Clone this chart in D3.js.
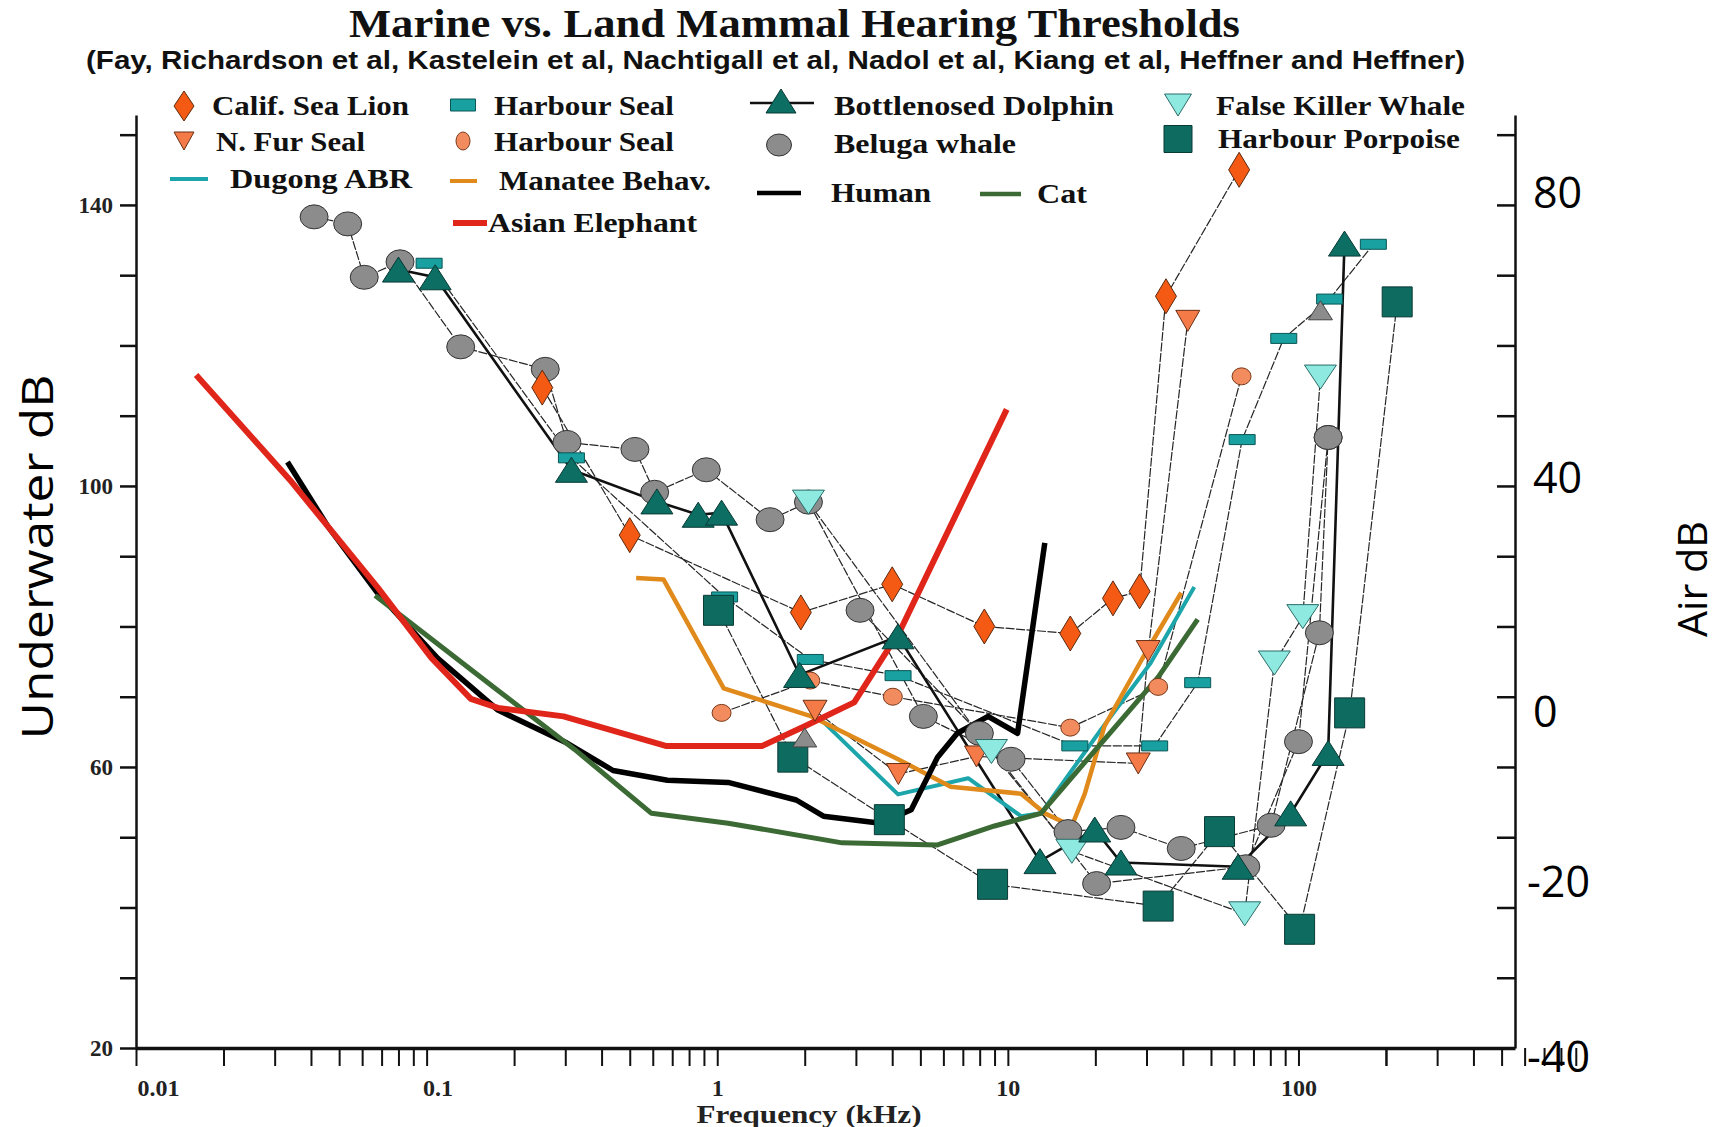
<!DOCTYPE html>
<html lang="en">
<head>
<meta charset="utf-8">
<title>Marine vs. Land Mammal Hearing Thresholds</title>
<script src="https://d3js.org/d3.v7.min.js"></script>
<style>
  body { margin: 0; background: #fff; }
  svg { display: block; }
  .serif { font-family: "Liberation Serif", "DejaVu Serif", serif; font-weight: bold; }
  .sans { font-family: "Open Sans", "Liberation Sans", sans-serif; }
  .axis path, .axis line { stroke: #111; }
</style>
</head>
<body>
<script>
// frequency in kHz, threshold in underwater dB
var seaLion = [[0.25,114],[0.5,93],[1.94,82],[4.0,86],[8.3,80],[16.4,79],[23,84],[28.4,85],[35,127],[62.5,145]];
var furSeal = [[2.17,68],[4.2,59],[7.8,61.5],[28.1,60.5],[30.4,76.5],[41.6,123.5]];
var harbourSealBar = [[0.102,131.7],[0.315,104],[1.06,84.2],[2.09,75.3],[4.19,73],[17,63],[32,63],[45,72],[64,106.6],[89,121],[128,126.6],[181,134.4]];
var harbourSealDot = [[1.035,67.7],[2.09,72.3],[4.02,70],[16.4,65.6],[32.9,71.4],[63.7,115.6]];
var dolphin = [[0.08,130.8],[0.107,129.7],[0.315,102.3],[0.62,97.8],[0.86,95.9],[1.035,96.2],[1.92,73.1],[4.19,78.6],[12.9,46.6],[19.9,51.1],[24.5,46.4],[62,45.8],[94,53.4],[126.5,62],[144,134.5]];
var dolphinGrey = [[2.0,64.2],[119,125]];
var belugaA = [[0.041,138.3],[0.0535,137.3],[0.061,129.7],[0.081,131.9],[0.131,119.8],[0.256,116.6],[0.304,106.2],[0.521,105.2],[0.609,99.1],[0.917,102.3],[1.52,95.2],[2.06,97.7],[5.12,67.2],[10.26,61.1],[16.1,50.8],[24.5,51.4],[39.5,48.4],[80.5,51.7],[118,79.1],[126.5,106.9]];
var belugaB = [[3.1,82.3],[7.98,64.8],[20.2,43.4],[65.9,45.8],[100,63.6],[126.5,106.9]];
var falseKiller = [[2.06,97.7],[8.78,62.2],[16.6,48],[65.3,39.1],[82.6,74.8],[103.5,81.4],[119,115.5]];
var porpoise = [[1.01,82.3],[1.82,61.4],[3.91,52.5],[8.86,43.3],[32.9,40.2],[53.5,50.8],[100.9,36.9],[150,67.7],[218.6,126.2]];

var elephant = [[0.0161,115.8],[0.0338,100.9],[0.0458,94.2],[0.0677,85.6],[0.104,75.5],[0.142,69.7],[0.176,68.4],[0.296,67.2],[0.665,63],[1.43,63],[2.0,65.8],[2.96,69.2],[4.27,79.5],[9.91,110.9]];
var human = [[0.0332,103.4],[0.0458,94.2],[0.0677,84.8],[0.109,75.5],[0.176,68.1],[0.304,63.4],[0.438,59.5],[0.674,58.1],[1.09,57.8],[1.87,55.3],[2.32,53],[3.65,52],[4.65,53.9],[5.73,61.4],[6.7,64.8],[8.55,67.2],[10.8,64.8],[13.4,91.9]];
var cat = [[0.0665,84.4],[0.176,70.9],[0.323,62.5],[0.594,53.4],[1.09,52],[2.69,49.2],[5.73,48.9],[9.0,51.6],[13,53.4],[22,64.4],[32.9,72.8],[45,81]];
var manatee = [[0.526,86.9],[0.653,86.7],[1.053,71.2],[2.11,67.2],[4.19,61.1],[6.36,57.2],[11.1,56.2],[13.4,53.4],[16.6,51.6],[18.4,56.2],[21.5,65.8],[28.9,75.3],[39.5,84.8]];
var dugong = [[2.28,66.7],[4.19,56.1],[7.3,58.4],[11.1,53],[13,53.4],[20.9,65.3],[31,74.8],[43.8,85.6]];

// axis ticks
var xMajor = [0.01, 0.1, 1, 10, 100];
var xTickLabels = ["0.01", "0.1", "1", "10", "100"];
var yTickLabels = [20, 60, 100, 140];
var airTicks = [80, 40, 0, -20, -40];
var airTickWaterDb = [141.9, 101.3, 68.1, 43.8, 18.9];   // where the hand placed air labels sit

var W = 1721, H = 1127;
var svg = d3.select("body").append("svg").attr("width", W).attr("height", H);

var x = d3.scaleLog().domain([0.01, 556]).range([136, 1515]);
var y = d3.scaleLinear().domain([20, 152.8]).range([1048, 115]);
var airToWater = d3.scaleLinear().domain(airTicks).range(airTickWaterDb);

// title
svg.append("text").attr("class", "serif")
    .attr("x", 349).attr("y", 37)
    .attr("textLength", 891).attr("lengthAdjust", "spacingAndGlyphs")
    .style("font-size", "39px").style("fill", "#111")
    .text("Marine vs. Land Mammal Hearing Thresholds");
svg.append("text")
    .attr("x", 86).attr("y", 69)
    .attr("textLength", 1379).attr("lengthAdjust", "spacingAndGlyphs")
    .style("font-family", "'Liberation Sans', Arial, sans-serif").style("font-weight", "bold")
    .style("font-size", "25px").style("fill", "#111")
    .text("(Fay, Richardson et al, Kastelein et al, Nachtigall et al, Nadol et al, Kiang et al, Heffner and Heffner)");

// x axis
var xTicks = [];
xMajor.forEach(function(d) { for (var k = 1; k < 10; k++) xTicks.push(d * k); });
xTicks.push(200);

var gx = svg.append("g").attr("class", "axis serif")
    .attr("transform", "translate(0,1048)")
    .call(d3.axisBottom(x).tickValues(xTicks).tickSize(18).tickSizeOuter(0).tickPadding(13)
        .tickFormat(function(d) { var i = xMajor.indexOf(d); return i >= 0 ? xTickLabels[i] : ""; }));
gx.select(".domain").attr("stroke-width", 3.5).attr("stroke", "#333");
gx.selectAll(".tick line").attr("stroke-width", 2);
gx.selectAll("text")
    .style("font-size", "24px").style("fill", "#222")
    .attr("dx", function(d) { var s = String(d3.select(this).text()); return s.indexOf(".") >= 0 ? (s.length - 2) * 11 : 0; });

svg.append("text").attr("class", "serif")
    .attr("x", 809).attr("y", 1123).attr("text-anchor", "middle")
    .attr("textLength", 225).attr("lengthAdjust", "spacingAndGlyphs")
    .style("font-size", "25px").style("fill", "#222")
    .text("Frequency (kHz)");

// left axis
var gy = svg.append("g").attr("class", "axis serif")
    .attr("transform", "translate(136,0)")
    .call(d3.axisLeft(y).tickValues(d3.range(20, 151, 10)).tickSize(16).tickSizeOuter(0).tickPadding(7)
        .tickFormat(function(d) { return yTickLabels.indexOf(d) >= 0 ? d : ""; }));
gy.select(".domain").attr("stroke-width", 2.5);
gy.selectAll(".tick line").attr("stroke-width", 2.5);
gy.selectAll("text").style("font-size", "23px").style("fill", "#222");

// right axis: same ticks drawn inwards, labels in air dB
var gr = svg.append("g").attr("class", "axis")
    .attr("transform", "translate(1515,0)")
    .call(d3.axisLeft(y).tickValues(d3.range(30, 151, 10)).tickSize(18).tickSizeOuter(0).tickFormat(""));
gr.select(".domain").attr("stroke-width", 2.5);
gr.selectAll(".tick line").attr("stroke-width", 2.5);

svg.selectAll(".airLabel").data(airTicks).enter().append("text")
    .attr("class", "sans airLabel")
    .attr("x", function(d) { return d < 0 ? 1527 : 1533; })
    .attr("y", function(d) { return y(airToWater(d)); })
    .attr("dominant-baseline", "central")
    .style("font-size", "43px").style("fill", "#000")
    .text(function(d) { return d; });

svg.append("text").attr("class", "sans")
    .attr("transform", "translate(53,557) rotate(-90)")
    .attr("text-anchor", "middle")
    .attr("textLength", 365).attr("lengthAdjust", "spacingAndGlyphs")
    .style("font-size", "43px").text("Underwater dB");
svg.append("text").attr("class", "sans")
    .attr("transform", "translate(1707,579) rotate(-90)")
    .attr("text-anchor", "middle")
    .attr("textLength", 116).attr("lengthAdjust", "spacingAndGlyphs")
    .style("font-size", "40px").text("Air dB");

// marker shapes
function shape(kind, w, h) {
    var a = w / 2, b = h / 2;
    if (kind === "diamond") return "M0," + (-b) + "L" + a + ",0L0," + b + "L" + (-a) + ",0Z";
    if (kind === "up") return "M0," + (-b) + "L" + a + "," + b + "L" + (-a) + "," + b + "Z";
    if (kind === "down") return "M" + (-a) + "," + (-b) + "L" + a + "," + (-b) + "L0," + b + "Z";
    if (kind === "rect") return "M" + (-a) + "," + (-b) + "H" + a + "V" + b + "H" + (-a) + "Z";
    return "M" + (-a) + ",0A" + a + "," + b + " 0 1,0 " + a + ",0A" + a + "," + b + " 0 1,0 " + (-a) + ",0Z";
}

var line = d3.line().x(function(d) { return x(d[0]); }).y(function(d) { return y(d[1]); });

var markerSeries = [
    { data: belugaA, kind: "ellipse", w: 28, h: 24, fill: "#8c8c8c", stroke: "#333" },
    { data: belugaB, kind: "ellipse", w: 28, h: 24, fill: "#8c8c8c", stroke: "#333" },
    { data: harbourSealBar, kind: "rect", w: 26, h: 10, fill: "#19a0a0", stroke: "#0b5656" },
    { data: harbourSealDot, kind: "ellipse", w: 19, h: 17, fill: "#f28c5e", stroke: "#7a3a1a" },
    { data: furSeal, kind: "down", w: 24, h: 21, fill: "#f47a48", stroke: "#6a2f14" },
    { data: seaLion, kind: "diamond", w: 21, h: 35, fill: "#f55a14", stroke: "#5b2a10" },
    { data: porpoise, kind: "rect", w: 30, h: 30, fill: "#0e6b60", stroke: "#0a3a35" },
    { data: falseKiller, kind: "down", w: 32, h: 24, fill: "#8ee9e0", stroke: "#2b6c68" },
    { data: dolphinGrey, kind: "up", w: 24, h: 19, fill: "#8c8c8c", stroke: "#444", noLine: true },
    { data: dolphin, kind: "up", w: 32, h: 25, fill: "#0d6e64", stroke: "#083a35", thick: true }
];

// thin connecting lines
markerSeries.forEach(function(s) {
    if (s.noLine) return;
    svg.append("path").datum(s.data)
        .attr("d", line)
        .attr("fill", "none")
        .attr("stroke", s.thick ? "#111" : "#262626")
        .attr("stroke-width", s.thick ? 2.6 : 1.2)
        .attr("stroke-dasharray", s.thick ? null : "9,1.5");
});

// land mammal and sirenian curves
var curves = [
    { data: dugong, color: "#1ca5aa", width: 4 },
    { data: manatee, color: "#e08a1c", width: 4.5 },
    { data: human, color: "#000", width: 5.5 },
    { data: cat, color: "#3c6a34", width: 5 },
    { data: elephant, color: "#e0261a", width: 6 }
];
curves.forEach(function(c) {
    svg.append("path").datum(c.data)
        .attr("d", line)
        .attr("fill", "none")
        .attr("stroke", c.color)
        .attr("stroke-width", c.width)
        .attr("stroke-linejoin", "round");
});

// markers
markerSeries.forEach(function(s) {
    svg.append("g").selectAll("path").data(s.data).enter().append("path")
        .attr("transform", function(d) { return "translate(" + x(d[0]) + "," + y(d[1]) + ")"; })
        .attr("d", shape(s.kind, s.w, s.h))
        .attr("fill", s.fill)
        .attr("stroke", s.stroke)
        .attr("stroke-width", 1);
});

// legend
var legendMarkers = [
    { kind: "diamond", x: 184, y: 106, w: 20, h: 30, fill: "#f55a14", stroke: "#5b2a10" },
    { kind: "rect", x: 463, y: 105, w: 25, h: 12, fill: "#19a0a0", stroke: "#0b5656" },
    { kind: "up", x: 781, y: 101, w: 30, h: 24, fill: "#0d6e64", stroke: "#083a35" },
    { kind: "down", x: 1178, y: 105, w: 27, h: 22, fill: "#8ee9e0", stroke: "#2b6c68" },
    { kind: "down", x: 184, y: 141, w: 20, h: 18, fill: "#f47a48", stroke: "#6a2f14" },
    { kind: "ellipse", x: 463, y: 141, w: 14, h: 18, fill: "#f28c5e", stroke: "#7a3a1a" },
    { kind: "ellipse", x: 779, y: 145, w: 25, h: 22, fill: "#8c8c8c", stroke: "#333" },
    { kind: "rect", x: 1178, y: 139, w: 28, h: 27, fill: "#0e6b60", stroke: "#0a3a35" }
];
var legendLines = [
    { x1: 750, x2: 814, y: 103, color: "#111", width: 2.6 },
    { x1: 170, x2: 208, y: 179, color: "#1ca5aa", width: 4 },
    { x1: 450, x2: 477, y: 181, color: "#e08a1c", width: 4 },
    { x1: 757, x2: 801, y: 193, color: "#000", width: 4.5 },
    { x1: 980, x2: 1021, y: 194, color: "#3c6a34", width: 4.5 },
    { x1: 453, x2: 487, y: 223, color: "#e0261a", width: 6 }
];
var legendLabels = [
    { text: "Calif. Sea Lion", x: 212, y: 106, w: 197 },
    { text: "Harbour Seal", x: 494, y: 106, w: 180 },
    { text: "Bottlenosed Dolphin", x: 834, y: 106, w: 280 },
    { text: "False Killer Whale", x: 1216, y: 106, w: 249 },
    { text: "N. Fur Seal", x: 216, y: 142, w: 149 },
    { text: "Harbour Seal", x: 494, y: 142, w: 180 },
    { text: "Beluga whale", x: 834, y: 144, w: 182 },
    { text: "Harbour Porpoise", x: 1218, y: 139, w: 242 },
    { text: "Dugong ABR", x: 230, y: 179, w: 182 },
    { text: "Manatee Behav.", x: 499, y: 181, w: 212 },
    { text: "Human", x: 831, y: 193, w: 100 },
    { text: "Cat", x: 1037, y: 194, w: 50 },
    { text: "Asian Elephant", x: 488, y: 223, w: 209 }
];

legendLines.forEach(function(l) {
    svg.append("line").attr("x1", l.x1).attr("x2", l.x2).attr("y1", l.y).attr("y2", l.y)
        .attr("stroke", l.color).attr("stroke-width", l.width);
});
legendMarkers.forEach(function(m) {
    svg.append("path")
        .attr("transform", "translate(" + m.x + "," + m.y + ")")
        .attr("d", shape(m.kind, m.w, m.h))
        .attr("fill", m.fill).attr("stroke", m.stroke).attr("stroke-width", 1);
});
legendLabels.forEach(function(t) {
    svg.append("text").attr("class", "serif")
        .attr("x", t.x).attr("y", t.y + 9)
        .attr("textLength", t.w).attr("lengthAdjust", "spacingAndGlyphs")
        .style("font-size", "27px").style("fill", "#111")
        .text(t.text);
});
</script>
</body>
</html>
